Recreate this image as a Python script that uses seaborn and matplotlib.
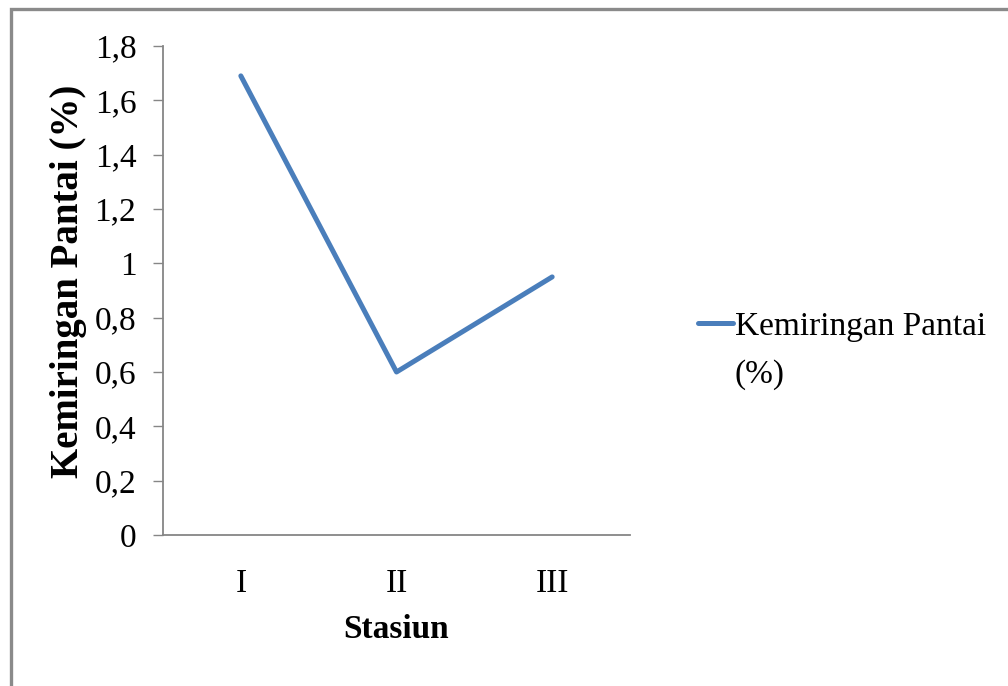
import matplotlib
matplotlib.use("Agg")
import matplotlib.pyplot as plt
import seaborn as sns
import pandas as pd
from matplotlib.patches import Rectangle
from matplotlib.ticker import FuncFormatter

stasiun = ["I", "II", "III"]
kemiringan = [1.69, 0.60, 0.95]
series_label = "Kemiringan Pantai\n(%)"

sns.set_theme(style="white")
plt.rcParams["font.family"] = ["Liberation Serif", "DejaVu Serif"]
plt.rcParams["text.color"] = "black"

df = pd.DataFrame({"Stasiun": stasiun, "Kemiringan": kemiringan})

fig = plt.figure(figsize=(10.08, 6.86), dpi=100)
ax = fig.add_axes([163/1008, 1-535/686, (630-163)/1008, (535-46)/686])

sns.lineplot(data=df, x="Stasiun", y="Kemiringan", ax=ax, color="#4A7EBB",
             linewidth=3.6, label=series_label, solid_capstyle="round", sort=False)

ax.set_xlim(-0.5, 2.5)
ax.set_ylim(0, 1.8)
ax.set_yticks([0, 0.2, 0.4, 0.6, 0.8, 1.0, 1.2, 1.4, 1.6, 1.8])
ax.yaxis.set_major_formatter(FuncFormatter(lambda v, p: ("%g" % round(v, 1)).replace(".", ",")))

gray = "#868686"
for s in ["top", "right"]:
    ax.spines[s].set_visible(False)
for s in ["left", "bottom"]:
    ax.spines[s].set_color(gray)
    ax.spines[s].set_linewidth(1.3)

ax.tick_params(axis="y", which="major", left=True, length=7.2, width=1.0, color=gray,
               direction="out", labelsize=24, pad=12, labelcolor="black")
ax.tick_params(axis="x", which="major", bottom=False, labelsize=24, pad=18, labelcolor="black")

ax.set_xlabel("Stasiun", fontsize=24, fontweight="bold", labelpad=11, color="black")
ax.set_ylabel("Kemiringan Pantai (%)", fontsize=28, fontweight="bold", color="black")
ax.yaxis.set_label_coords(-0.163, 0.518)

leg = ax.legend(loc="upper left", bbox_to_anchor=(698/1008, 1-311/686),
                bbox_transform=fig.transFigure, frameon=False, fontsize=24,
                handlelength=1.05, handletextpad=0.05, borderpad=0, borderaxespad=0)
for t in leg.get_texts():
    t.set_color("black")
    t.set_linespacing(1.75)
for col in leg._legend_handle_box.get_children():
    for hp in col.get_children():
        hp.align = "top"

fig.add_artist(Rectangle((11/1008, -0.2), 1.2, 0.2 + 1 - 9/686, transform=fig.transFigure,
                         fill=False, edgecolor="#8a8a8a", linewidth=2.4))

fig.savefig("out.png", dpi=100, facecolor="white")
